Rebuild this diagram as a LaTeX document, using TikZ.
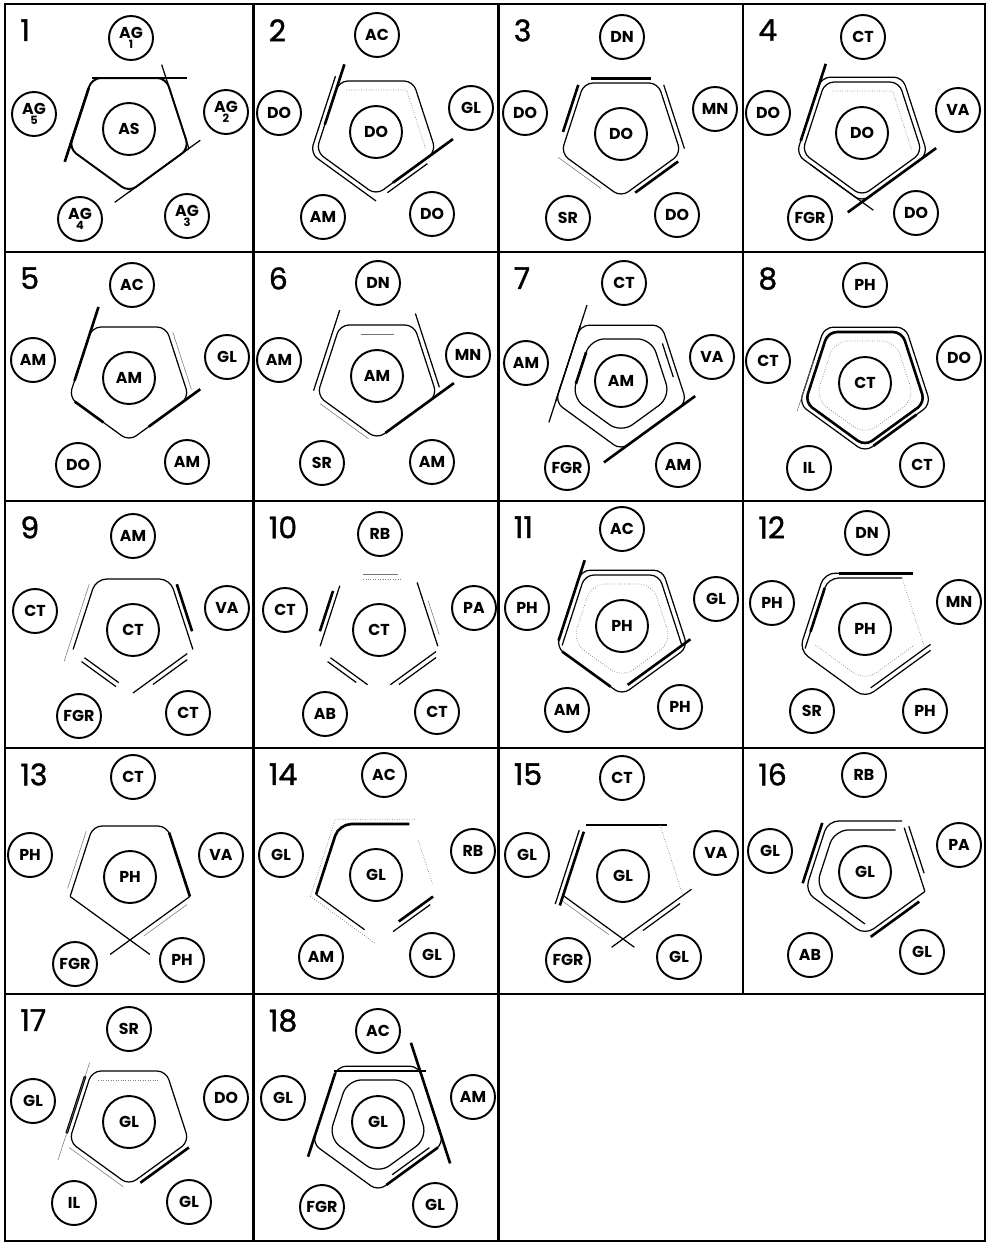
\documentclass[tikz,border=0pt]{standalone}
\usepackage{fontspec}
\setmainfont{Poppins}
\newfontfamily\numfont{Poppins}[FakeBold=1.2]
\usetikzlibrary{shapes.geometric, calc}

\begin{document}
\begin{tikzpicture}[
    x=0.02cm, y=-0.02cm,
    % Outer residue: small ring with label
    sat/.style={
        circle, draw=black, line width=1.1pt,
        minimum size=0.88cm, inner sep=0pt,
        font=\fontsize{9}{9}\selectfont\bfseries
    },
    % Central residue: larger ring
    hub/.style={
        sat, minimum size=1.04cm
    },
    % Panel number
    num/.style={
        anchor=north west, inner sep=0pt,
        font=\numfont\fontsize{17}{17}\selectfont
    },
    % Pentagon guide (never drawn itself)
    pent/.style={
        regular polygon, regular polygon sides=5,
        shape border rotate=180, inner sep=0pt, outer sep=0pt,
        minimum size=#1
    },
    % Sketch strokes
    ln/.style={line width=0.7pt, black},
    hv/.style={line width=1.5pt, black},
    fn/.style={line width=0.3pt, black!55},
    dt/.style={line width=0.4pt, black!50, densely dotted},
    frame/.style={line width=1.2pt, black},
]

\useasboundingbox (0,0) rectangle (986,1244);

% three concentric guides around a hub: o(uter), m(iddle), i(nner)
\def\pentguides#1{%
    \node[pent=2.76cm] (#1-o) at (#1) {};
    \node[pent=2.52cm] (#1-m) at (#1) {};
    \node[pent=2.08cm] (#1-i) at (#1) {};}
% closed outline through the corners of a guide
\def\pentline#1#2{%
    \draw[rounded corners=5pt, #2] (#1.corner 1) -- (#1.corner 2) -- (#1.corner 3)
        -- (#1.corner 4) -- (#1.corner 5) -- cycle;}
% one side of a guide (corner 1 = bottom, 2 = right, 3 = upper right, ...)
\def\pentside#1#2#3#4{\draw[#4] (#1.corner #2) -- (#1.corner #3);}

% ============================================================
% GRID
% ============================================================
\draw[frame] (5,4) rectangle (985,1241);
\draw[frame] (5,252) -- (985,252);
\draw[frame] (5,501) -- (985,501);
\draw[frame] (5,748) -- (985,748);
\draw[frame] (5,994) -- (985,994);
\draw[frame] (253.5,4) -- (253.5,1241);
\draw[frame] (498.5,4) -- (498.5,1241);
\draw[frame] (743,4) -- (743,994);

% ============================================================
% ROW 1
% ============================================================

% ---- panel 1 ----
\def\ox{5}\def\oy{4}\def\cx{129}
\node[num] (N1) at (\ox+15,\oy+15) {1};
\node[hub] (P1)    at (\cx,\oy+125)    {AS};
\node[sat, align=center] (P1-t)  at (\cx+2,\oy+34)   {AG\\[-3pt]{\fontsize{6.5}{6}\selectfont 1}};
\node[sat, align=center] (P1-r)  at (\cx+97,\oy+108) {AG\\[-3pt]{\fontsize{6.5}{6}\selectfont 2}};
\node[sat, align=center] (P1-br) at (\cx+58,\oy+212) {AG\\[-3pt]{\fontsize{6.5}{6}\selectfont 3}};
\node[sat, align=center] (P1-bl) at (\cx-49,\oy+215) {AG\\[-3pt]{\fontsize{6.5}{6}\selectfont 4}};
\node[sat, align=center] (P1-l)  at (\cx-95,\oy+110) {AG\\[-3pt]{\fontsize{6.5}{6}\selectfont 5}};
\pentguides{P1}
\pentline{P1-m}{line width=1.1pt}
\pentside{P1-m}{4}{3}{ln, shorten >=-12pt}
\pentside{P1-m}{2}{3}{ln, shorten >=-8pt}
\pentside{P1-m}{1}{2}{ln, shorten >=-8pt}
\pentside{P1-m}{2}{1}{ln, shorten >=-10pt}
\pentside{P1-m}{4}{5}{hv, shorten <=6pt, shorten >=-8pt}

% ---- panel 2 ----
\def\ox{253.5}\def\oy{4}\def\cx{376}
\node[num] (N2) at (\ox+15,\oy+15) {2};
\node[hub] (P2)    at (\cx,\oy+128)    {DO};
\node[sat] (P2-t)  at (\cx+1,\oy+31)   {AC};
\node[sat] (P2-r)  at (\cx+95,\oy+104) {GL};
\node[sat] (P2-br) at (\cx+56,\oy+210) {DO};
\node[sat] (P2-bl) at (\cx-53,\oy+213) {AM};
\node[sat] (P2-l)  at (\cx-97,\oy+109) {DO};
\pentguides{P2}
\pentline{P2-m}{ln}
\draw[ln, rounded corners=5pt] (P2-o.corner 4) -- (P2-o.corner 5) -- (P2-o.corner 1);
\pentside{P2-m}{5}{4}{hv, shorten <=16pt, shorten >=-10pt}
\pentside{P2-m}{1}{2}{hv, shorten <=12pt, shorten >=-12pt}
\pentside{P2-o}{1}{2}{ln, shorten <=8pt, shorten >=10pt}
\draw[dt] (P2-i.corner 2) -- (P2-i.corner 3) -- (P2-i.corner 4);

% ---- panel 3 ----
\def\ox{498.5}\def\oy{4}\def\cx{621}
\node[num] (N3) at (\ox+15,\oy+15) {3};
\node[hub] (P3)    at (\cx,\oy+130)    {DO};
\node[sat] (P3-t)  at (\cx+1,\oy+33)   {DN};
\node[sat] (P3-r)  at (\cx+94,\oy+105) {MN};
\node[sat] (P3-br) at (\cx+56,\oy+211) {DO};
\node[sat] (P3-bl) at (\cx-53,\oy+214) {SR};
\node[sat] (P3-l)  at (\cx-96,\oy+109) {DO};
\pentguides{P3}
\pentline{P3-m}{ln}
\pentside{P3-o}{4}{3}{hv, shorten <=6pt, shorten >=6pt}
\pentside{P3-o}{3}{2}{ln, shorten <=4pt, shorten >=4pt}
\pentside{P3-o}{4}{5}{hv, shorten <=4pt, shorten >=14pt}
\pentside{P3-o}{1}{2}{hv, shorten <=10pt, shorten >=6pt}
\pentside{P3-o}{5}{1}{fn, shorten <=2pt, shorten >=14pt}

% ---- panel 4 ----
\def\ox{743}\def\oy{4}\def\cx{864}
\node[num] (N4) at (\ox+15,\oy+15) {4};
\node[hub] (P4)    at (\cx-2,\oy+129)  {DO};
\node[sat] (P4-t)  at (\cx-1,\oy+33)   {CT};
\node[sat] (P4-r)  at (\cx+94,\oy+106) {VA};
\node[sat] (P4-br) at (\cx+52,\oy+209) {DO};
\node[sat] (P4-bl) at (\cx-54,\oy+214) {FGR};
\node[sat] (P4-l)  at (\cx-96,\oy+109) {DO};
\pentguides{P4}
\pentline{P4-o}{ln}
\pentline{P4-m}{ln}
\pentside{P4-o}{5}{4}{hv, shorten <=8pt, shorten >=-8pt}
\pentside{P4-o}{1}{2}{hv, shorten <=-10pt, shorten >=-6pt}
\pentside{P4-o}{1}{5}{ln, shorten <=-8pt, shorten >=10pt}
\draw[dt] (P4-i.corner 2) -- (P4-i.corner 3) -- (P4-i.corner 4);

% ============================================================
% ROW 2
% ============================================================

% ---- panel 5 ----
\def\ox{5}\def\oy{252}\def\cx{129}
\node[num] (N5) at (\ox+15,\oy+15) {5};
\node[hub] (P5)    at (\cx,\oy+126)    {AM};
\node[sat] (P5-t)  at (\cx+3,\oy+33)   {AC};
\node[sat] (P5-r)  at (\cx+98,\oy+105) {GL};
\node[sat] (P5-br) at (\cx+58,\oy+210) {AM};
\node[sat] (P5-bl) at (\cx-51,\oy+213) {DO};
\node[sat] (P5-l)  at (\cx-96,\oy+108) {AM};
\pentguides{P5}
\pentline{P5-m}{ln}
\pentside{P5-m}{5}{4}{hv, shorten <=10pt, shorten >=-12pt}
\pentside{P5-m}{1}{2}{hv, shorten <=14pt, shorten >=-8pt}
\pentside{P5-m}{5}{1}{hv, shorten <=4pt, shorten >=18pt}
\pentside{P5-o}{3}{2}{fn, shorten <=6pt, shorten >=6pt}

% ---- panel 6 ----
\def\ox{253.5}\def\oy{252}\def\cx{376}
\node[num] (N6) at (\ox+15,\oy+15) {6};
\node[hub] (P6)    at (\cx+1,\oy+124)  {AM};
\node[sat] (P6-t)  at (\cx+2,\oy+31)   {DN};
\node[sat] (P6-r)  at (\cx+92,\oy+103) {MN};
\node[sat] (P6-br) at (\cx+56,\oy+210) {AM};
\node[sat] (P6-bl) at (\cx-54,\oy+211) {SR};
\node[sat] (P6-l)  at (\cx-97,\oy+108) {AM};
\pentguides{P6}
\pentline{P6-m}{ln}
\pentside{P6-o}{4}{5}{ln, shorten <=-6pt, shorten >=4pt}
\pentside{P6-o}{3}{2}{ln, shorten <=-4pt, shorten >=6pt}
\pentside{P6-m}{1}{2}{hv, shorten <=6pt, shorten >=-12pt}
\pentside{P6-o}{5}{1}{fn, shorten <=6pt, shorten >=6pt}
\pentside{P6-i}{4}{3}{fn, shorten <=8pt, shorten >=8pt}

% ---- panel 7 ----
\def\ox{498.5}\def\oy{252}\def\cx{621}
\node[num] (N7) at (\ox+15,\oy+15) {7};
\node[hub] (P7)    at (\cx,\oy+129)    {AM};
\node[sat] (P7-t)  at (\cx+3,\oy+31)   {CT};
\node[sat] (P7-r)  at (\cx+91,\oy+105) {VA};
\node[sat] (P7-br) at (\cx+57,\oy+213) {AM};
\node[sat] (P7-bl) at (\cx-54,\oy+216) {FGR};
\node[sat] (P7-l)  at (\cx-95,\oy+111) {AM};
\pentguides{P7}
\pentline{P7-o}{ln}
\pentline{P7-i}{ln, rounded corners=8pt}
\pentside{P7-o}{5}{4}{ln, shorten >=-12pt}
\pentside{P7-o}{4}{5}{ln, shorten >=-12pt}
\pentside{P7-o}{2}{1}{hv, shorten <=-6pt, shorten >=-12pt}
\pentside{P7-i}{4}{5}{hv, shorten <=8pt, shorten >=8pt}
\pentside{P7-m}{3}{2}{ln, shorten <=8pt, shorten >=14pt}

% ---- panel 8 ----
\def\ox{743}\def\oy{252}\def\cx{864}
\node[num] (N8) at (\ox+15,\oy+15) {8};
\node[hub] (P8)    at (\cx+1,\oy+131)  {CT};
\node[sat] (P8-t)  at (\cx+1,\oy+33)   {PH};
\node[sat] (P8-r)  at (\cx+95,\oy+106) {DO};
\node[sat] (P8-br) at (\cx+58,\oy+213) {CT};
\node[sat] (P8-bl) at (\cx-55,\oy+216) {IL};
\node[sat] (P8-l)  at (\cx-96,\oy+109) {CT};
\pentguides{P8}
\pentline{P8-m}{hv}
\pentline{P8-o}{ln}
\pentline{P8-i}{dt, rounded corners=8pt}
\pentside{P8-o}{5}{4}{fn, shorten <=-4pt, shorten >=20pt}
\pentside{P8-o}{1}{2}{hv, shorten <=6pt, shorten >=10pt}

% ============================================================
% ROW 3
% ============================================================

% ---- panel 9 ----
\def\ox{5}\def\oy{501}\def\cx{129}
\node[num] (N9) at (\ox+15,\oy+15) {9};
\node[hub] (P9)    at (\cx+4,\oy+129)  {CT};
\node[sat] (P9-t)  at (\cx+4,\oy+35)   {AM};
\node[sat] (P9-r)  at (\cx+98,\oy+107) {VA};
\node[sat] (P9-br) at (\cx+59,\oy+212) {CT};
\node[sat] (P9-bl) at (\cx-50,\oy+215) {FGR};
\node[sat] (P9-l)  at (\cx-94,\oy+110) {CT};
\pentguides{P9}
\draw[ln, rounded corners=6pt] (P9-m.corner 5) -- (P9-m.corner 4) -- (P9-m.corner 3) -- (P9-m.corner 2);
\pentside{P9-o}{3}{2}{hv, shorten <=6pt, shorten >=12pt}
\pentside{P9-o}{4}{5}{fn, shorten <=6pt, shorten >=-6pt}
\pentside{P9-m}{5}{1}{ln, shorten <=8pt, shorten >=10pt}
\pentside{P9-o}{5}{1}{ln, shorten <=10pt, shorten >=12pt}
\pentside{P9-m}{1}{2}{ln, shorten >=4pt}
\pentside{P9-o}{1}{2}{ln, shorten <=14pt, shorten >=8pt}

% ---- panel 10 ----
\def\ox{253.5}\def\oy{501}\def\cx{376}
\node[num] (N10) at (\ox+15,\oy+15) {10};
\node[hub] (P10)    at (\cx+3,\oy+129)  {CT};
\node[sat] (P10-t)  at (\cx+4,\oy+33)   {RB};
\node[sat] (P10-r)  at (\cx+98,\oy+107) {PA};
\node[sat] (P10-br) at (\cx+61,\oy+211) {CT};
\node[sat] (P10-bl) at (\cx-51,\oy+213) {AB};
\node[sat] (P10-l)  at (\cx-91,\oy+109) {CT};
\pentguides{P10}
\pentside{P10-m}{4}{5}{ln, shorten <=4pt, shorten >=2pt}
\pentside{P10-o}{4}{5}{hv, shorten <=10pt, shorten >=12pt}
\pentside{P10-m}{4}{3}{dt, shorten <=12pt, shorten >=8pt}
\pentside{P10-o}{4}{3}{fn, shorten <=14pt, shorten >=12pt}
\pentside{P10-m}{3}{2}{ln, shorten <=2pt, shorten >=2pt}
\pentside{P10-o}{3}{2}{fn, shorten <=16pt, shorten >=10pt}
\pentside{P10-m}{5}{1}{ln, shorten <=8pt, shorten >=8pt}
\pentside{P10-o}{5}{1}{ln, shorten <=10pt, shorten >=16pt}
\pentside{P10-m}{1}{2}{ln, shorten <=8pt, shorten >=2pt}
\pentside{P10-o}{1}{2}{ln, shorten <=14pt, shorten >=6pt}

% ---- panel 11 ----
\def\ox{498.5}\def\oy{501}\def\cx{621}
\node[num] (N11) at (\ox+15,\oy+15) {11};
\node[hub] (P11)    at (\cx+1,\oy+125)  {PH};
\node[sat] (P11-t)  at (\cx+1,\oy+28)   {AC};
\node[sat] (P11-r)  at (\cx+95,\oy+98)  {GL};
\node[sat] (P11-br) at (\cx+59,\oy+206) {PH};
\node[sat] (P11-bl) at (\cx-54,\oy+209) {AM};
\node[sat] (P11-l)  at (\cx-94,\oy+107) {PH};
\pentguides{P11}
\pentline{P11-o}{ln}
\draw[ln, rounded corners=5pt] (P11-m.corner 2) -- (P11-m.corner 3) -- (P11-m.corner 4) -- (P11-m.corner 5);
\pentside{P11-o}{4}{5}{hv, shorten <=-6pt, shorten >=4pt}
\pentside{P11-o}{5}{1}{hv, shorten <=4pt, shorten >=8pt}
\pentside{P11-m}{1}{2}{hv, shorten <=4pt, shorten >=-6pt}
\pentline{P11-i}{dt, rounded corners=8pt}

% ---- panel 12 ----
\def\ox{743}\def\oy{501}\def\cx{864}
\node[num] (N12) at (\ox+15,\oy+15) {12};
\node[hub] (P12)    at (\cx+1,\oy+128)  {PH};
\node[sat] (P12-t)  at (\cx+3,\oy+32)   {DN};
\node[sat] (P12-r)  at (\cx+95,\oy+101) {MN};
\node[sat] (P12-br) at (\cx+61,\oy+210) {PH};
\node[sat] (P12-bl) at (\cx-52,\oy+210) {SR};
\node[sat] (P12-l)  at (\cx-92,\oy+102) {PH};
\pentguides{P12}
\draw[ln, rounded corners=6pt] (P12-o.corner 3) -- (P12-o.corner 4) -- (P12-o.corner 5) -- (P12-o.corner 1) -- (P12-o.corner 2);
\draw[ln, rounded corners=6pt] (P12-m.corner 3) -- (P12-m.corner 4) -- (P12-m.corner 5);
\pentside{P12-o}{4}{3}{hv, shorten <=8pt, shorten >=-4pt}
\pentside{P12-m}{4}{5}{hv, shorten <=6pt, shorten >=10pt}
\pentside{P12-m}{1}{2}{ln, shorten <=4pt, shorten >=-4pt}
\pentside{P12-m}{3}{2}{dt}
\draw[dt, rounded corners=8pt] (P12-i.corner 5) -- (P12-i.corner 1) -- (P12-i.corner 2);

% ============================================================
% ROW 4
% ============================================================

% ---- panel 13 ----
\def\ox{5}\def\oy{748}\def\cx{129}
\node[num] (N13) at (\ox+15,\oy+15) {13};
\node[hub] (P13)    at (\cx+1,\oy+129)  {PH};
\node[sat] (P13-t)  at (\cx+4,\oy+29)   {CT};
\node[sat] (P13-r)  at (\cx+92,\oy+107) {VA};
\node[sat] (P13-br) at (\cx+53,\oy+212) {PH};
\node[sat] (P13-bl) at (\cx-54,\oy+216) {FGR};
\node[sat] (P13-l)  at (\cx-99,\oy+107) {PH};
\pentguides{P13}
\draw[ln, rounded corners=5pt] (P13-m.corner 5) -- (P13-m.corner 4) -- (P13-m.corner 3) -- (P13-m.corner 2);
\pentside{P13-m}{3}{2}{hv, shorten <=4pt}
\pentside{P13-m}{5}{1}{ln, shorten >=-14pt}
\pentside{P13-m}{2}{1}{ln, shorten >=-14pt}
\pentside{P13-o}{4}{5}{fn, shorten <=6pt, shorten >=6pt}
\pentside{P13-o}{1}{2}{fn, shorten <=10pt, shorten >=6pt}

% ---- panel 14 ----
\def\ox{253.5}\def\oy{748}\def\cx{376}
\node[num] (N14) at (\ox+15,\oy+15) {14};
\node[hub] (P14)    at (\cx,\oy+127)    {GL};
\node[sat] (P14-t)  at (\cx+8,\oy+27)   {AC};
\node[sat] (P14-r)  at (\cx+97,\oy+103) {RB};
\node[sat] (P14-br) at (\cx+56,\oy+207) {GL};
\node[sat] (P14-bl) at (\cx-55,\oy+209) {AM};
\node[sat] (P14-l)  at (\cx-95,\oy+107) {GL};
\pentguides{P14}
\draw[hv, rounded corners=7pt] (P14-m.corner 5) -- (P14-m.corner 4) -- ($(P14-m.corner 4)!0.95!(P14-m.corner 3)$);
\pentside{P14-m}{5}{1}{ln, shorten >=8pt}
\pentside{P14-m}{3}{2}{dt, shorten <=10pt, shorten >=6pt}
\pentside{P14-m}{2}{1}{hv, shorten <=2pt, shorten >=16pt}
\pentside{P14-o}{2}{1}{ln, shorten <=8pt, shorten >=12pt}
\draw[dt] (P14-o.corner 5) -- (P14-o.corner 4) -- (P14-o.corner 3);
\pentside{P14-o}{5}{1}{dt}

% ---- panel 15 ----
\def\ox{498.5}\def\oy{748}\def\cx{621}
\node[num] (N15) at (\ox+15,\oy+15) {15};
\node[hub] (P15)    at (\cx+2,\oy+128)  {GL};
\node[sat] (P15-t)  at (\cx+1,\oy+30)   {CT};
\node[sat] (P15-r)  at (\cx+95,\oy+105) {VA};
\node[sat] (P15-br) at (\cx+58,\oy+209) {GL};
\node[sat] (P15-bl) at (\cx-53,\oy+212) {FGR};
\node[sat] (P15-l)  at (\cx-94,\oy+107) {GL};
\pentguides{P15}
\pentside{P15-m}{4}{3}{ln, shorten >=-4pt}
\pentside{P15-m}{4}{5}{hv, shorten <=4pt, shorten >=-6pt}
\pentside{P15-o}{4}{5}{ln, shorten <=6pt, shorten >=-4pt}
\pentside{P15-m}{5}{1}{ln, shorten >=-8pt}
\pentside{P15-m}{2}{1}{ln, shorten <=-6pt, shorten >=-8pt}
\pentside{P15-o}{2}{1}{ln, shorten <=6pt, shorten >=14pt}
\pentside{P15-m}{3}{2}{dt}
\pentside{P15-o}{5}{1}{fn, shorten <=4pt, shorten >=10pt}

% ---- panel 16 ----
\def\ox{743}\def\oy{748}\def\cx{864}
\node[num] (N16) at (\ox+15,\oy+15) {16};
\node[hub] (P16)    at (\cx+1,\oy+124)  {GL};
\node[sat] (P16-t)  at (\cx,\oy+27)     {RB};
\node[sat] (P16-r)  at (\cx+95,\oy+97)  {PA};
\node[sat] (P16-br) at (\cx+58,\oy+204) {GL};
\node[sat] (P16-bl) at (\cx-54,\oy+207) {AB};
\node[sat] (P16-l)  at (\cx-94,\oy+103) {GL};
\pentguides{P16}
\draw[ln, rounded corners=6pt] (P16-m.corner 3) -- (P16-m.corner 4) -- (P16-m.corner 5) -- (P16-m.corner 1) -- (P16-m.corner 2);
\pentside{P16-m}{3}{2}{ln, shorten <=4pt}
\pentside{P16-o}{3}{2}{ln, shorten <=6pt, shorten >=12pt}
\draw[ln, rounded corners=8pt] (P16-i.corner 3) -- (P16-i.corner 4) -- (P16-i.corner 5) -- (P16-i.corner 1);
\pentside{P16-o}{4}{5}{hv, shorten <=4pt, shorten >=6pt}
\pentside{P16-o}{1}{2}{hv, shorten <=4pt, shorten >=8pt}

% ============================================================
% ROW 5
% ============================================================

% ---- panel 17 ----
\def\ox{5}\def\oy{994}\def\cx{129}
\node[num] (N17) at (\ox+15,\oy+15) {17};
\node[hub] (P17)    at (\cx,\oy+128)    {GL};
\node[sat] (P17-t)  at (\cx,\oy+35)     {SR};
\node[sat] (P17-r)  at (\cx+97,\oy+104) {DO};
\node[sat] (P17-br) at (\cx+60,\oy+208) {GL};
\node[sat] (P17-bl) at (\cx-55,\oy+209) {IL};
\node[sat] (P17-l)  at (\cx-96,\oy+107) {GL};
\pentguides{P17}
\pentline{P17-m}{ln}
\pentside{P17-o}{4}{5}{hv, shorten <=6pt, shorten >=6pt}
\pentside{P17-o}{4}{5}{fn, shorten <=-2pt, shorten >=-10pt}
\pentside{P17-o}{1}{2}{hv, shorten <=8pt, shorten >=4pt}
\pentside{P17-o}{5}{1}{fn, shorten <=4pt, shorten >=4pt}
\pentside{P17-i}{4}{3}{dt}

% ---- panel 18 ----
\def\ox{253.5}\def\oy{994}\def\cx{376}
\node[num] (N18) at (\ox+15,\oy+15) {18};
\node[hub] (P18)    at (\cx+2,\oy+128)  {GL};
\node[sat] (P18-t)  at (\cx+2,\oy+37)   {AC};
\node[sat] (P18-r)  at (\cx+97,\oy+103) {AM};
\node[sat] (P18-br) at (\cx+59,\oy+211) {GL};
\node[sat] (P18-bl) at (\cx-54,\oy+213) {FGR};
\node[sat] (P18-l)  at (\cx-93,\oy+104) {GL};
\pentguides{P18}
\pentline{P18-o}{ln}
\pentline{P18-i}{ln, rounded corners=8pt}
\pentside{P18-o}{3}{2}{hv, shorten <=-14pt, shorten >=-12pt}
\pentside{P18-o}{4}{5}{hv, shorten <=4pt, shorten >=-8pt}
\pentside{P18-o}{2}{1}{hv, shorten <=4pt, shorten >=6pt}
\pentside{P18-m}{2}{1}{ln, shorten <=6pt, shorten >=10pt}
\pentside{P18-m}{4}{3}{ln, shorten <=-4pt, shorten >=-6pt}

\end{tikzpicture}
\end{document}
